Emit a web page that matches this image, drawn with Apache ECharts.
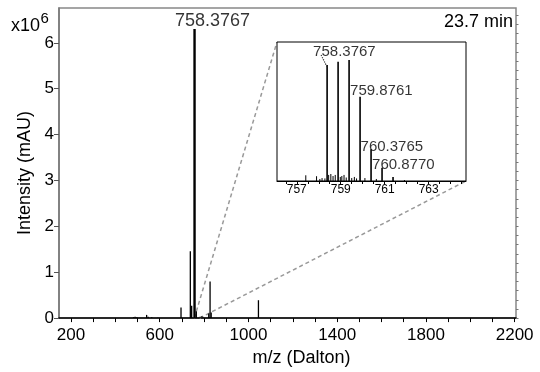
<!DOCTYPE html>
<html><head><meta charset="utf-8">
<script src="https://cdn.jsdelivr.net/npm/echarts@6/dist/echarts.min.js"></script>
<style>html,body{margin:0;padding:0;background:#fff}#c{width:540px;height:372px}</style>
</head><body><div id="c"></div>
<script>
// ---- data (intensity in units of 1e6 mAU) ----
const xTickLabels = [200, 600, 1000, 1400, 1800, 2200];
const yTickLabels = [0, 1, 2, 3, 4, 5, 6];
const mainMz  = [482, 489, 497, 541, 548, 564, 592, 696, 738, 744, 765, 782, 790, 795, 821, 827, 832, 1045];
const mainInt = [0.02, 0.03, 0.02, 0.07, 0.03, 0.02, 0.01, 0.23, 1.46, 0.27, 0.15, 0.03, 0.04, 0.02, 0.10, 0.80, 0.12, 0.39];
const basePeakMz = [757];
const basePeakInt = [6.30];
const basePeakText = ['758.3767'];
const timeText = '23.7 min';
const scaleText = ['x10', '6'];

const insetTickLabels = [757, 759, 761, 763];
const insetMz  = [758.38, 758.88, 759.38, 759.88, 760.38, 760.88, 761.38];
const insetInt = [6.30, 6.48, 6.57, 4.57, 1.73, 0.72, 0.22];
const insetNoiseMz  = [757.41, 757.90, 758.05, 758.15, 758.28, 758.45, 758.55, 758.65, 758.75, 758.98, 759.05, 759.15, 759.25, 759.50, 759.62, 759.72, 760.10, 760.62, 761.90];
const insetNoiseInt = [0.31, 0.26, 0.11, 0.16, 0.14, 0.33, 0.38, 0.27, 0.33, 0.22, 0.27, 0.33, 0.19, 0.16, 0.22, 0.14, 0.16, 0.11, 0.05];
const insetLabelText = ['758.3767', '759.8761', '760.3765', '760.8770'];
const insetLabelMz   = [758.38, 759.88, 760.38, 760.88];
const insetLabelInt  = [6.30, 4.57, 1.73, 0.72];
const zoomFromMz = [756, 780];

// ---- layout / styling ----
const FONT = 'Liberation Sans, Arial, sans-serif';
const xMin = 146, xMax = 2206, yMax = 6.76;
const inXMin = 756.1, inXMax = 764.7, inYMax = 7.55;
const insetLabelOffset = [[-14, -13.5], [-10, -6], [-10.5, -2], [-10, -2.5]];

function stick(w, color) {
  return function (params, api) {
    const p0 = api.coord([api.value(0), 0]);
    const p1 = api.coord([api.value(0), api.value(1)]);
    return {type: 'line', shape: {x1: p0[0], y1: p0[1], x2: p1[0], y2: p1[1]},
            style: {stroke: color || '#000', lineWidth: w}};
  };
}
const zip = (a, b) => a.map((v, i) => [v, b[i]]);
const plain = v => String(v);

const ticks100 = [];
for (let v = 200; v <= 2200; v += 100) ticks100.push(v);
const yMinor = [];
for (let v = 0; v <= yMax + 1e-9; v += 0.2) yMinor.push(+v.toFixed(1));
const inTicks = [];
for (let v = 756.5; v <= 764.5; v += 0.5) inTicks.push(v);

const chart = echarts.init(document.getElementById('c'), null, {renderer: 'canvas'});
const option = {
  animation: false,
  backgroundColor: '#fff',
  textStyle: {fontFamily: FONT},
  grid: [
    {left: 59, top: 8, width: 457, height: 311, show: true, borderColor: '#888', borderWidth: 1.5, backgroundColor: 'transparent'},
    {left: 277, top: 42, width: 189, height: 139, show: true, borderColor: '#000', borderWidth: 1, backgroundColor: '#fff', z: 5}
  ],
  xAxis: [
    {gridIndex: 0, type: 'value', min: xMin, max: xMax,
     axisLine: {show: true, lineStyle: {color: '#000', width: 1.5}},
     axisTick: {show: true, customValues: ticks100, length: 4, lineStyle: {color: '#000', width: 1}},
     axisLabel: {customValues: xTickLabels, formatter: plain, fontSize: 17, color: '#000', margin: 9, fontFamily: FONT},
     splitLine: {show: false},
     name: 'm/z (Dalton)', nameLocation: 'middle', nameGap: 29,
     nameTextStyle: {fontSize: 18, color: '#000', fontFamily: FONT, padding: [0, 0, 0, 28]}},
    {gridIndex: 1, type: 'value', min: inXMin, max: inXMax, z: 6,
     axisLine: {show: true, lineStyle: {color: '#000', width: 1}},
     axisTick: {show: true, customValues: inTicks, length: 3, lineStyle: {color: '#000'}},
     axisLabel: {customValues: insetTickLabels, formatter: plain, fontSize: 12, color: '#000', margin: 3, fontFamily: FONT},
     splitLine: {show: false}}
  ],
  yAxis: [
    {gridIndex: 0, type: 'value', min: 0, max: yMax,
     axisLine: {show: true, lineStyle: {color: '#777', width: 1.5}},
     axisTick: {show: true, customValues: yTickLabels, length: 5, lineStyle: {color: '#555'}},
     axisLabel: {customValues: yTickLabels, formatter: plain, fontSize: 17, color: '#000', margin: 5, fontFamily: FONT},
     splitLine: {show: false},
     name: 'Intensity (mAU)', nameLocation: 'middle', nameGap: 24,
     nameTextStyle: {fontSize: 18, color: '#000', fontFamily: FONT, padding: [0, 20, 0, 0]}},
    {gridIndex: 0, type: 'value', min: 0, max: yMax,
     axisLine: {show: false}, axisLabel: {show: false}, splitLine: {show: false},
     axisTick: {show: true, customValues: yMinor, length: 2.5, lineStyle: {color: '#777'}}},
    {gridIndex: 1, type: 'value', min: 0, max: inYMax, show: false}
  ],
  series: [
    {type: 'custom', xAxisIndex: 0, yAxisIndex: 0, renderItem: stick(1.3), encode: {x: 0, y: 1}, data: zip(mainMz, mainInt), clip: true, z: 2},
    {type: 'custom', xAxisIndex: 0, yAxisIndex: 0, renderItem: stick(2.4), encode: {x: 0, y: 1}, data: zip(basePeakMz, basePeakInt), clip: true, z: 2},
    {type: 'scatter', xAxisIndex: 0, yAxisIndex: 0, symbolSize: 0, z: 3,
     data: basePeakMz.map((m, i) => ({value: [m, basePeakInt[i]], name: basePeakText[i]})),
     label: {show: true, formatter: p => p.name, position: [-19.5, -8], align: 'left', verticalAlign: 'middle',
             fontSize: 18, color: '#000', fontFamily: FONT}},
    {type: 'custom', xAxisIndex: 1, yAxisIndex: 2, renderItem: stick(1), encode: {x: 0, y: 1}, data: zip(insetNoiseMz, insetNoiseInt), clip: true, z: 7},
    {type: 'custom', xAxisIndex: 1, yAxisIndex: 2, renderItem: stick(1.6), encode: {x: 0, y: 1}, data: zip(insetMz, insetInt), clip: true, z: 7},
    {type: 'scatter', xAxisIndex: 1, yAxisIndex: 2, symbolSize: 0, z: 8,
     data: insetLabelMz.map((m, i) => ({value: [m, insetLabelInt[i]], name: insetLabelText[i],
             label: {position: insetLabelOffset[i]}})),
     label: {show: true, formatter: p => p.name, align: 'left', verticalAlign: 'middle',
             fontSize: 15, color: '#000', fontFamily: FONT}}
  ]
};
chart.setOption(option);

// annotations derived from the axes
const pA0 = chart.convertToPixel({xAxisIndex: 0, yAxisIndex: 0}, [zoomFromMz[0], 0]);
const pB0 = chart.convertToPixel({xAxisIndex: 0, yAxisIndex: 0}, [zoomFromMz[1], 0]);
const pA1 = chart.convertToPixel({xAxisIndex: 1, yAxisIndex: 2}, [inXMin, inYMax]);
const pB1 = chart.convertToPixel({xAxisIndex: 1, yAxisIndex: 2}, [inXMax, 0]);
const pk = chart.convertToPixel({xAxisIndex: 1, yAxisIndex: 2}, [insetLabelMz[0], insetLabelInt[0]]);
const tl = chart.convertToPixel({xAxisIndex: 0, yAxisIndex: 0}, [xMin, yMax]);
const br = chart.convertToPixel({xAxisIndex: 0, yAxisIndex: 0}, [xMax, yMax]);
const dash = {stroke: '#999', lineWidth: 1.5, lineDash: [4, 3]};
chart.setOption({
  graphic: [
    {type: 'line', z: 1, shape: {x1: pA0[0], y1: pA0[1], x2: pA1[0], y2: pA1[1]}, style: dash, silent: true},
    {type: 'line', z: 1, shape: {x1: pB0[0], y1: pB0[1], x2: pB1[0], y2: pB1[1]}, style: dash, silent: true},
    {type: 'line', z: 100, shape: {x1: pk[0] - 6, y1: pk[1] - 10, x2: pk[0], y2: pk[1] + 2},
     style: {stroke: '#333', lineWidth: 1.2, lineDash: [1.2, 1.2]}, silent: true},
    {type: 'text', z: 100, x: tl[0] - 48, y: tl[1] + 18,
     style: {text: scaleText[0], fontSize: 18, fontFamily: FONT, fill: '#000', align: 'left', verticalAlign: 'middle'}},
    {type: 'text', z: 100, x: tl[0] - 18.5, y: tl[1] + 11,
     style: {text: scaleText[1], fontSize: 15, fontFamily: FONT, fill: '#000', align: 'left', verticalAlign: 'middle'}},
    {type: 'text', z: 100, x: br[0] - 3, y: br[1] + 14,
     style: {text: timeText, fontSize: 18, fontFamily: FONT, fill: '#000', align: 'right', verticalAlign: 'middle'}}
  ]
});
</script></body></html>
